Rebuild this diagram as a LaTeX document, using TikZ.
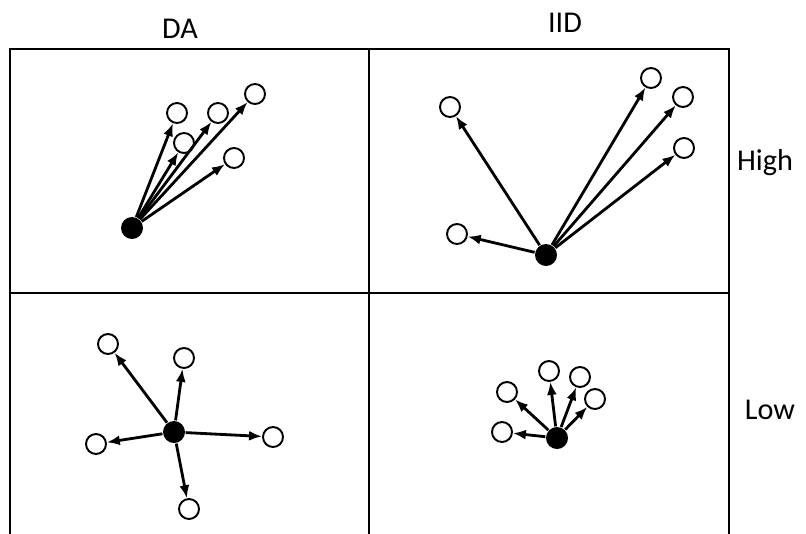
\documentclass[tikz,border=0pt]{standalone}
\usepackage{fontspec}
\setmainfont{Carlito}
\usetikzlibrary{arrows.meta}

\begin{document}
\begin{tikzpicture}
		[font=\fontsize{8.6}{10}\selectfont,
		frame/.style ={draw, line width=0.7pt},
		src/.style ={circle, fill=black, inner sep=0pt, minimum size=0.22cm},
		tgt/.style ={circle, draw=black, line width=0.55pt, fill=white, inner sep=0pt, minimum size=0.2cm},
		arr/.style ={draw, line width=0.8pt, -{Latex[length=0.13cm,width=0.1cm]}}]
		\useasboundingbox (0,0) rectangle (8.06,5.33);

		% grid
		\draw[frame] (0.10,-0.1) rectangle (7.29,4.84);
		\draw[frame] (0.10,2.40) -- (7.29,2.40);
		\draw[frame] (3.69,-0.1) -- (3.69,4.84);

		\node (da) at (1.80,5.04) {DA};
		\node (iid) at (5.65,5.10) {IID};
		\node (high) at (7.65,3.70) {High};
		\node (low) at (7.70,1.23) {Low};

		% DA, high
		\node[src] (s1) at (1.32,3.05) {};
		\node[tgt] (a1) at (1.77,4.20) {};
		\node[tgt] (a2) at (1.84,3.90) {};
		\node[tgt] (a3) at (2.18,4.20) {};
		\node[tgt] (a4) at (2.55,4.39) {};
		\node[tgt] (a5) at (2.34,3.75) {};
		\path[arr]
		(s1) edge (a1) edge (a2) edge (a3) edge (a4) edge (a5);

		% IID, high
		\node[src] (s2) at (5.46,2.78) {};
		\node[tgt] (b1) at (4.50,4.26) {};
		\node[tgt] (b2) at (4.57,2.99) {};
		\node[tgt] (b3) at (6.51,4.55) {};
		\node[tgt] (b4) at (6.83,4.36) {};
		\node[tgt] (b5) at (6.84,3.85) {};
		\path[arr]
		(s2) edge (b1) edge (b2) edge (b3) edge (b4) edge (b5);

		% DA, low
		\node[src] (s3) at (1.74,1.01) {};
		\node[tgt] (c1) at (1.08,1.89) {};
		\node[tgt] (c2) at (1.84,1.75) {};
		\node[tgt] (c3) at (0.96,0.89) {};
		\node[tgt] (c4) at (2.73,0.96) {};
		\node[tgt] (c5) at (1.89,0.24) {};
		\path[arr]
		(s3) edge (c1) edge (c2) edge (c3) edge (c4) edge (c5);

		% IID, low
		\node[src] (s4) at (5.57,0.95) {};
		\node[tgt] (d1) at (5.07,1.41) {};
		\node[tgt] (d2) at (5.49,1.62) {};
		\node[tgt] (d3) at (5.80,1.56) {};
		\node[tgt] (d4) at (5.95,1.34) {};
		\node[tgt] (d5) at (5.02,1.01) {};
		\path[arr]
		(s4) edge (d1) edge (d2) edge (d3) edge (d4) edge (d5);

	\end{tikzpicture}
\end{document}
